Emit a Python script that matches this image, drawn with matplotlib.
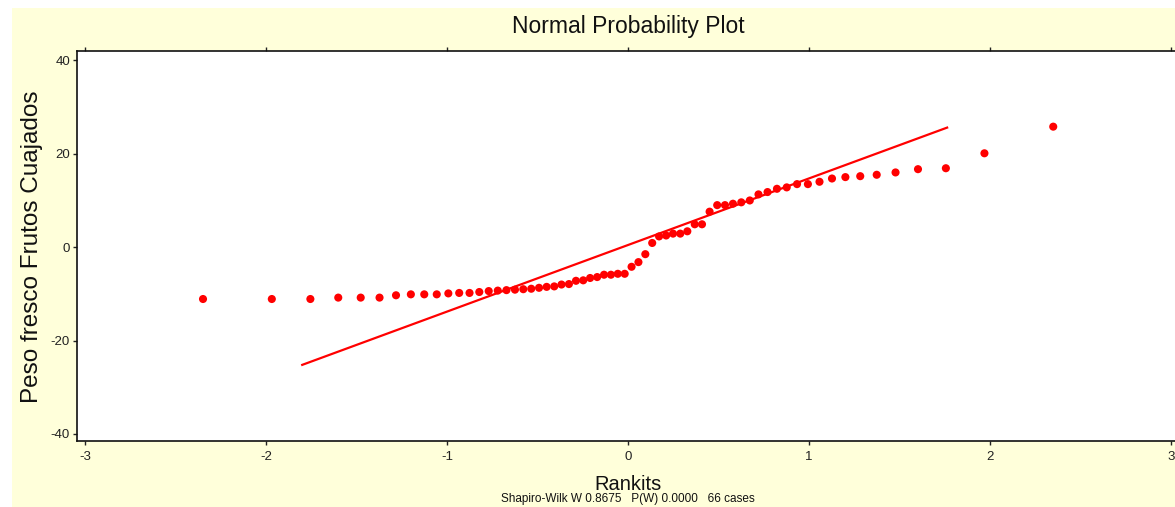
import matplotlib.pyplot as plt
from matplotlib.patches import Rectangle

plt.rcParams['font.family'] = ['Liberation Sans', 'DejaVu Sans']
plt.rcParams['axes.unicode_minus'] = False

# rankits (expected normal order statistics, n = 66), lower half; upper half mirrors it
rankits_low = [-2.348, -1.968, -1.755, -1.601, -1.477, -1.373, -1.282, -1.200,
               -1.126, -1.057, -0.993, -0.933, -0.876, -0.822, -0.770, -0.720,
               -0.672, -0.625, -0.579, -0.535, -0.492, -0.450, -0.408, -0.368,
               -0.327, -0.288, -0.248, -0.210, -0.171, -0.133, -0.095, -0.057,
               -0.019]
rankits = rankits_low + [-r for r in reversed(rankits_low)]

# sorted values of Peso fresco Frutos Cuajados
peso = [-11.1, -11.1, -11.1, -10.8, -10.8, -10.8, -10.3, -10.1, -10.1, -10.1,
        -9.9, -9.8, -9.8, -9.6, -9.4, -9.3, -9.2, -9.1, -9.0, -8.9,
        -8.7, -8.5, -8.4, -8.0, -7.9, -7.2, -7.1, -6.6, -6.4, -5.9,
        -5.9, -5.7, -5.7, -4.2, -3.2, -1.5, 0.9, 2.3, 2.5, 2.9,
        2.9, 3.4, 4.9, 4.9, 7.6, 9.0, 9.0, 9.3, 9.6, 10.0,
        11.3, 11.8, 12.5, 12.8, 13.5, 13.5, 14.0, 14.7, 15.0, 15.2,
        15.5, 16.0, 16.7, 16.9, 20.1, 25.8]

# reference line ends
line_x = [-1.80, 1.762]
line_y = [-25.2, 25.6]

xticks = [-3, -2, -1, 0, 1, 2, 3]
yticks = [-40, -20, 0, 20, 40]

W, H = 1175, 507
fig = plt.figure(figsize=(W / 100, H / 100), dpi=100)
fig.patch.set_facecolor('white')
bg = Rectangle((12 / W, 0), 1 - 12 / W, (H - 8) / H, transform=fig.transFigure,
               facecolor='#FFFFDA', edgecolor='none', zorder=-5)
fig.patches.append(bg)

ax = fig.add_axes([77 / W, (H - 441) / H, 1.003 - 77 / W, 390 / H])
ax.set_zorder(2)
ax.set_facecolor('white')
ax.plot(line_x, line_y, color='#FF0000', linewidth=1.6, zorder=2)
ax.scatter(rankits, peso, s=34, color='#FF0000', edgecolors='none', zorder=3)

ax.set_xlim(-3.044, 3.04)
ax.set_ylim(-41.5, 42.0)
ax.set_xticks(xticks)
ax.set_yticks(yticks)
ax.tick_params(axis='both', labelsize=9.5, colors='#222222', length=3, width=1, pad=4)
ax.tick_params(axis='y', pad=2)
ax.tick_params(axis='x', top=True, direction='out')
for s in ['left', 'bottom', 'top']:
    ax.spines[s].set_linewidth(1.2)
    ax.spines[s].set_color('#111111')
ax.spines['right'].set_visible(False)

fig.text(628 / W, (H - 27) / H, 'Normal Probability Plot', ha='center', va='center',
         fontsize=16.5, color='#111111')
fig.text(32 / W, (H - 247) / H, 'Peso fresco Frutos Cuajados', rotation=90,
         ha='center', va='center', fontsize=17.5, color='#111111')
fig.text(628 / W, (H - 484) / H, 'Rankits', ha='center', va='center',
         fontsize=14.5, color='#111111')
fig.text(628 / W, 2 / H, 'Shapiro-Wilk W 0.8675   P(W) 0.0000   66 cases',
         ha='center', va='bottom', fontsize=8.5, color='#111111')

fig.savefig('out.png', dpi=100, facecolor=fig.get_facecolor())
